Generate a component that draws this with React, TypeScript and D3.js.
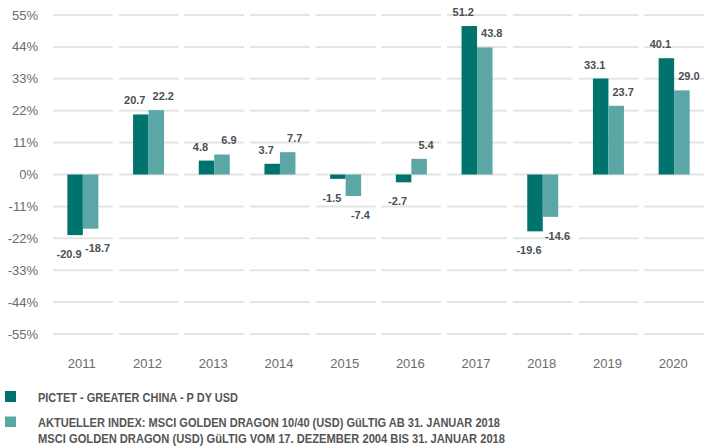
import React from "react";
import * as d3 from "d3";

const years = ["2011", "2012", "2013", "2014", "2015", "2016", "2017", "2018", "2019", "2020"];
const fundValues = [-20.9, 20.7, 4.8, 3.7, -1.5, -2.7, 51.2, -19.6, 33.1, 40.1];
const indexValues = [-18.7, 22.2, 6.9, 7.7, -7.4, 5.4, 43.8, -14.6, 23.7, 29.0];
const yTicks = [55, 44, 33, 22, 11, 0, -11, -22, -33, -44, -55];
const seriesKeys = ["fund", "index"];
const legendFund = "PICTET - GREATER CHINA - P DY USD";
const legendIndex1 = "AKTUELLER INDEX: MSCI GOLDEN DRAGON 10/40 (USD) GüLTIG AB 31. JANUAR 2018";
const legendIndex2 = "MSCI GOLDEN DRAGON (USD) GüLTIG VOM 17. DEZEMBER 2004 BIS 31. JANUAR 2018";

const W = 705;
const H = 446;
const DARK = "#00736e";
const LIGHT = "#5aa7a6";
const TEXT = "#4a4f54";
const AXIS = "#6b6b6b";
const GRID = "#e4e4e4";
const FONT = "'Liberation Sans', Arial, sans-serif";

export default function App() {
  const x = d3.scaleBand<string>().domain(years).range([53, 710]).padding(0);
  const step = x.step();
  const segW = step - 6;
  const y = d3.scaleLinear().domain([-55, 55]).range([334, 15]);
  const inner = d3.scaleBand<string>().domain(seriesKeys).range([segW / 2 - 15.5, segW / 2 + 15.5]).padding(0);
  const colors: Record<string, string> = { fund: DARK, index: LIGHT };
  const labelShift: Record<string, number> = { fund: -6, index: 7 };

  return (
    <svg width={W} height={H} style={{ position: "absolute", left: 0, top: 0, display: "block" }} fontFamily={FONT}>
      <rect width={W} height={H} fill="#fff" />
      {yTicks.map((t) => (
        <g key={"g" + t}>
          {years.map((yr) => (
            <line
              key={yr}
              x1={x(yr)!}
              x2={x(yr)! + segW}
              y1={y(t)}
              y2={y(t)}
              stroke={GRID}
              strokeWidth={2}
            />
          ))}
          <text x={38} y={y(t)} dy="0.35em" textAnchor="end" fontSize={13} fill={AXIS}>
            {t}%
          </text>
        </g>
      ))}
      {years.map((yr, i) => {
        const x0 = x(yr)!;
        const vals: Record<string, number> = { fund: fundValues[i], index: indexValues[i] };
        return (
          <g key={yr}>
            {seriesKeys.map((k) => {
              const v = vals[k];
              const bx = x0 + inner(k)!;
              const bw = inner.bandwidth();
              const top = y(Math.max(0, v));
              const bottom = y(Math.min(0, v));
              const cx = bx + bw / 2 + labelShift[k];
              const ly = v >= 0 ? top - 10 : bottom + 23;
              return (
                <g key={k}>
                  <rect x={bx} y={top} width={bw} height={bottom - top} fill={colors[k]} />
                  <text x={cx} y={ly} textAnchor="middle" fontSize={11} fontWeight="bold" fill={TEXT}>
                    {v.toFixed(1)}
                  </text>
                </g>
              );
            })}
            <text x={x0 + segW / 2 - 1} y={363} dy="0.35em" textAnchor="middle" fontSize={13} fill={AXIS}>
              {yr}
            </text>
          </g>
        );
      })}
      <rect x={5} y={391} width={11} height={11} fill={DARK} />
      <rect x={5} y={416.5} width={11} height={10.5} fill={LIGHT} />
      <g fontSize={12} fontWeight="bold" fill="#555">
        <text x={38} y={401.5} textLength={200} lengthAdjust="spacingAndGlyphs">
          {legendFund}
        </text>
        <text x={38} y={426.5} textLength={462} lengthAdjust="spacingAndGlyphs">
          {legendIndex1}
        </text>
        <text x={38} y={443} textLength={467} lengthAdjust="spacingAndGlyphs">
          {legendIndex2}
        </text>
      </g>
    </svg>
  );
}
